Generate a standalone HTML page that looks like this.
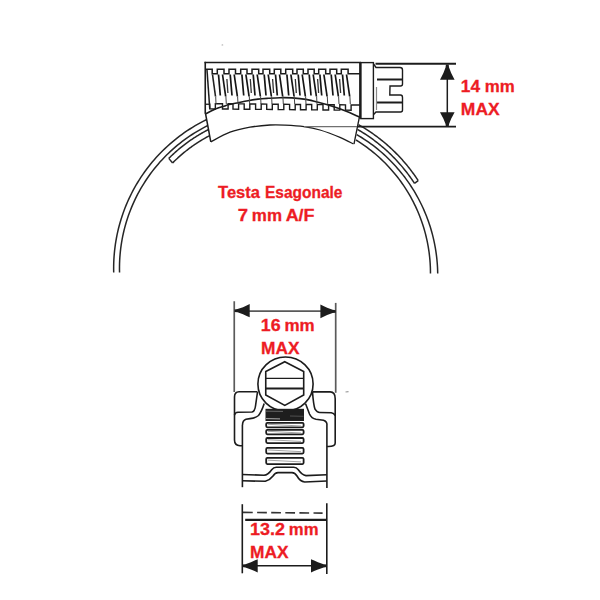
<!DOCTYPE html>
<html><head><meta charset="utf-8"><style>
html,body{margin:0;padding:0;background:#fff;width:600px;height:600px;overflow:hidden}
svg{display:block}
text{font-family:"Liberation Sans",sans-serif;font-weight:bold}
</style></head><body>
<svg width="600" height="600" viewBox="0 0 600 600">
<rect width="600" height="600" fill="#fff"/>
<circle cx="222.4" cy="44.9" r="0.9" fill="#c8c8c8"/>
<path d="M206.30,119.77 L203.49,121.18 L200.71,122.64 L197.95,124.15 L195.23,125.72 L192.53,127.33 L189.87,129.00 L187.24,130.72 L184.64,132.49 L182.07,134.31 L179.54,136.17 L177.05,138.08 L174.59,140.05 L172.17,142.05 L169.79,144.10 L167.45,146.20 L165.15,148.34 L162.89,150.53 L160.67,152.76 L158.50,155.03 L156.37,157.34 L154.28,159.69 L152.24,162.08 L150.24,164.51 L148.30,166.97 L146.39,169.47 L144.54,172.01 L142.73,174.58 L140.98,177.19 L139.27,179.83 L137.62,182.50 L136.01,185.21 L134.46,187.94 L132.96,190.70 L131.51,193.49 L130.11,196.31 L128.77,199.15 L127.49,202.02 L126.26,204.91 L125.08,207.82 L123.96,210.76 L122.89,213.72 L121.89,216.70 L120.93,219.69 L120.04,222.70 L119.20,225.73 L118.42,228.78 L117.70,231.84 L117.04,234.91 L116.44,238.00 L115.89,241.09 L115.40,244.20 L114.98,247.31 L114.61,250.43 L114.30,253.56 L114.05,256.69 L113.86,259.83 L113.73,262.97 L113.66,266.11 L113.65,269.26 L113.70,272.40" stroke="#262626" stroke-width="1.5" fill="none" />
<path d="M207.80,125.53 L205.11,126.90 L202.45,128.32 L199.82,129.79 L197.22,131.31 L194.64,132.88 L192.10,134.50 L189.59,136.16 L187.11,137.88 L184.66,139.63 L182.24,141.44 L179.86,143.29 L177.52,145.19 L175.21,147.12 L172.94,149.11 L170.70,151.13 L168.51,153.20 L166.35,155.31 L164.24,157.46 L162.16,159.64 L160.13,161.87 L158.14,164.14 L156.19,166.44 L154.29,168.78 L152.43,171.15 L150.62,173.56 L148.85,176.00 L147.13,178.48 L145.46,180.99 L143.83,183.53 L142.26,186.10 L140.73,188.70 L139.25,191.32 L137.82,193.98 L136.44,196.66 L135.11,199.37 L133.84,202.10 L132.61,204.85 L131.44,207.63 L130.32,210.43 L129.25,213.25 L128.24,216.09 L127.28,218.95 L126.38,221.82 L125.53,224.72 L124.73,227.63 L123.99,230.55 L123.31,233.49 L122.68,236.43 L122.11,239.39 L121.59,242.36 L121.13,245.34 L120.72,248.33 L120.38,251.33 L120.09,254.33 L119.85,257.33 L119.67,260.34 L119.55,263.36 L119.49,266.37 L119.48,269.39 L119.54,272.40" stroke="#262626" stroke-width="1.5" fill="none" />
<path d="M208.60,129.50 L207.87,129.88 L207.14,130.26 L206.41,130.64 L205.68,131.02 L204.95,131.41 L204.23,131.81 L203.51,132.20 L202.79,132.60 L202.07,133.01 L201.36,133.42 L200.65,133.83 L199.94,134.24 L199.23,134.66 L198.52,135.09 L197.82,135.52 L197.12,135.95 L196.42,136.38 L195.72,136.82 L195.03,137.26 L194.34,137.71 L193.65,138.16 L192.96,138.61 L192.28,139.07 L191.59,139.53 L190.91,139.99 L190.24,140.46 L189.56,140.93 L188.89,141.40 L188.22,141.88 L187.55,142.36 L186.89,142.85 L186.22,143.34 L185.56,143.83 L184.91,144.33 L184.25,144.82 L183.60,145.33 L182.95,145.83 L182.31,146.34 L181.66,146.86 L181.02,147.37 L180.38,147.89 L179.75,148.41 L179.11,148.94 L178.48,149.47 L177.86,150.00 L177.23,150.54 L176.61,151.08 L175.99,151.62 L175.38,152.17 L174.76,152.72 L174.15,153.27 L173.55,153.83 L172.94,154.39 L172.34,154.95 L171.74,155.52 L171.15,156.08 L170.56,156.66 L169.97,157.23 L169.38,157.81 L168.80,158.39" stroke="#262626" stroke-width="1.5" fill="none" />
<path d="M209.20,135.83 L208.53,136.19 L207.86,136.55 L207.19,136.91 L206.52,137.28 L205.85,137.65 L205.19,138.03 L204.53,138.40 L203.87,138.78 L203.21,139.17 L202.55,139.55 L201.90,139.94 L201.24,140.34 L200.59,140.74 L199.95,141.14 L199.30,141.54 L198.65,141.95 L198.01,142.36 L197.37,142.77 L196.73,143.19 L196.10,143.61 L195.47,144.03 L194.83,144.46 L194.20,144.89 L193.58,145.32 L192.95,145.76 L192.33,146.20 L191.71,146.64 L191.09,147.08 L190.48,147.53 L189.86,147.98 L189.25,148.44 L188.64,148.90 L188.04,149.36 L187.43,149.82 L186.83,150.29 L186.23,150.76 L185.63,151.23 L185.04,151.71 L184.45,152.19 L183.86,152.67 L183.27,153.16 L182.68,153.65 L182.10,154.14 L181.52,154.63 L180.95,155.13 L180.37,155.63 L179.80,156.13 L179.23,156.64 L178.66,157.15 L178.10,157.66 L177.54,158.18 L176.98,158.69 L176.42,159.21 L175.87,159.74 L175.32,160.26 L174.77,160.79 L174.22,161.32 L173.68,161.86 L173.14,162.40 L172.60,162.94" stroke="#262626" stroke-width="1.5" fill="none" />
<line x1="168.80" y1="158.39" x2="172.60" y2="162.94" stroke="#262626" stroke-width="1.5" />
<path d="M358.50,124.69 L359.70,125.37 L360.89,126.06 L362.07,126.76 L363.25,127.47 L364.43,128.18 L365.60,128.91 L366.76,129.65 L367.92,130.39 L369.07,131.15 L370.21,131.91 L371.35,132.68 L372.48,133.47 L373.61,134.26 L374.73,135.06 L375.84,135.87 L376.95,136.69 L378.05,137.51 L379.14,138.35 L380.23,139.19 L381.31,140.05 L382.38,140.91 L383.45,141.78 L384.51,142.66 L385.56,143.55 L386.60,144.44 L387.64,145.35 L388.67,146.26 L389.69,147.18 L390.71,148.11 L391.72,149.04 L392.72,149.99 L393.71,150.94 L394.70,151.90 L395.67,152.87 L396.64,153.85 L397.61,154.83 L398.56,155.82 L399.51,156.82 L400.44,157.83 L401.37,158.84 L402.30,159.87 L403.21,160.90 L404.12,161.93 L405.01,162.98 L405.90,164.03 L406.78,165.08 L407.65,166.15 L408.52,167.22 L409.37,168.30 L410.22,169.39 L411.05,170.48 L411.88,171.58 L412.70,172.68 L413.51,173.79 L414.31,174.91 L415.11,176.04 L415.89,177.17 L416.67,178.31 L417.43,179.45 L418.19,180.60" stroke="#262626" stroke-width="1.5" fill="none" />
<path d="M357.50,129.41 L358.64,130.07 L359.78,130.74 L360.91,131.42 L362.03,132.11 L363.15,132.81 L364.27,133.51 L365.38,134.23 L366.48,134.95 L367.58,135.68 L368.67,136.42 L369.75,137.17 L370.83,137.93 L371.91,138.70 L372.98,139.47 L374.04,140.25 L375.09,141.05 L376.14,141.85 L377.18,142.65 L378.22,143.47 L379.25,144.29 L380.27,145.13 L381.29,145.97 L382.30,146.81 L383.30,147.67 L384.30,148.54 L385.29,149.41 L386.27,150.29 L387.25,151.17 L388.22,152.07 L389.18,152.97 L390.13,153.88 L391.08,154.80 L392.02,155.73 L392.95,156.66 L393.88,157.60 L394.80,158.55 L395.71,159.50 L396.61,160.46 L397.51,161.43 L398.39,162.41 L399.27,163.39 L400.15,164.38 L401.01,165.37 L401.87,166.38 L402.72,167.39 L403.56,168.40 L404.39,169.43 L405.21,170.46 L406.03,171.49 L406.84,172.54 L407.64,173.59 L408.43,174.64 L409.21,175.70 L409.99,176.77 L410.75,177.84 L411.51,178.92 L412.26,180.01 L413.00,181.10 L413.73,182.20 L414.46,183.30" stroke="#262626" stroke-width="1.5" fill="none" />
<line x1="418.19" y1="180.60" x2="414.46" y2="183.30" stroke="#262626" stroke-width="1.5" />
<path d="M356.80,134.58 L359.20,136.02 L361.58,137.50 L363.93,139.01 L366.26,140.57 L368.56,142.17 L370.83,143.80 L373.07,145.47 L375.29,147.19 L377.47,148.94 L379.63,150.72 L381.75,152.55 L383.84,154.41 L385.90,156.30 L387.93,158.23 L389.93,160.20 L391.89,162.19 L393.81,164.23 L395.70,166.29 L397.56,168.39 L399.38,170.51 L401.16,172.67 L402.90,174.86 L404.61,177.08 L406.28,179.33 L407.91,181.60 L409.50,183.90 L411.05,186.23 L412.56,188.59 L414.04,190.97 L415.47,193.38 L416.85,195.81 L418.20,198.26 L419.51,200.74 L420.77,203.24 L421.99,205.76 L423.16,208.30 L424.30,210.86 L425.38,213.43 L426.43,216.03 L427.43,218.65 L428.38,221.28 L429.29,223.92 L430.16,226.59 L430.97,229.26 L431.75,231.95 L432.47,234.66 L433.15,237.37 L433.79,240.10 L434.37,242.84 L434.91,245.58 L435.41,248.34 L435.85,251.10 L436.25,253.87 L436.60,256.65 L436.90,259.43 L437.16,262.22 L437.37,265.01 L437.53,267.80 L437.64,270.60 L437.70,273.40" stroke="#262626" stroke-width="1.5" fill="none" />
<path d="M356.00,140.00 L358.26,141.41 L360.49,142.86 L362.69,144.34 L364.87,145.87 L367.03,147.43 L369.15,149.03 L371.25,150.66 L373.32,152.33 L375.36,154.04 L377.38,155.78 L379.36,157.55 L381.31,159.36 L383.24,161.20 L385.13,163.07 L386.98,164.98 L388.81,166.91 L390.60,168.88 L392.36,170.88 L394.08,172.90 L395.77,174.96 L397.43,177.04 L399.04,179.15 L400.63,181.29 L402.17,183.46 L403.68,185.65 L405.15,187.87 L406.58,190.11 L407.98,192.37 L409.33,194.66 L410.65,196.98 L411.93,199.31 L413.17,201.66 L414.36,204.04 L415.52,206.44 L416.63,208.85 L417.71,211.29 L418.74,213.74 L419.73,216.21 L420.68,218.69 L421.58,221.20 L422.45,223.71 L423.27,226.24 L424.04,228.79 L424.78,231.35 L425.47,233.92 L426.11,236.50 L426.71,239.09 L427.27,241.69 L427.79,244.30 L428.25,246.92 L428.68,249.55 L429.06,252.18 L429.39,254.82 L429.68,257.46 L429.93,260.11 L430.13,262.77 L430.28,265.42 L430.39,268.08 L430.45,270.74 L430.47,273.40" stroke="#262626" stroke-width="1.5" fill="none" />
<path d="M205.50,113.80 C207.47,112.88 214.22,109.55 217.30,108.30 C220.38,107.05 222.22,106.88 224.00,106.30 C225.78,105.72 225.67,105.40 228.00,104.80 C230.33,104.20 234.67,103.38 238.00,102.70 C241.33,102.02 244.67,101.30 248.00,100.70 C251.33,100.10 254.67,99.50 258.00,99.10 C261.33,98.70 264.33,98.53 268.00,98.30 C271.67,98.07 276.00,97.77 280.00,97.70 C284.00,97.63 287.67,97.62 292.00,97.90 C296.33,98.18 301.33,98.58 306.00,99.40 C310.67,100.22 315.50,101.60 320.00,102.80 C324.50,104.00 328.83,105.27 333.00,106.60 C337.17,107.93 340.58,109.07 345.00,110.80 C349.42,112.53 357.08,115.97 359.50,117.00 L354,144 L353.50,144.00 C351.25,142.90 345.58,139.73 340.00,137.40 C334.42,135.07 326.00,131.80 320.00,130.00 C314.00,128.20 309.83,127.42 304.00,126.60 C298.17,125.78 290.67,125.37 285.00,125.10 C279.33,124.83 275.83,124.65 270.00,125.00 C264.17,125.35 256.67,126.00 250.00,127.20 C243.33,128.40 236.53,129.77 230.00,132.20 C223.47,134.63 214.00,140.20 210.80,141.80 Z" fill="#fff" stroke="none"/>
<path d="M205.50,113.80 C207.47,112.88 214.22,109.55 217.30,108.30 C220.38,107.05 222.22,106.88 224.00,106.30 C225.78,105.72 225.67,105.40 228.00,104.80 C230.33,104.20 234.67,103.38 238.00,102.70 C241.33,102.02 244.67,101.30 248.00,100.70 C251.33,100.10 254.67,99.50 258.00,99.10 C261.33,98.70 264.33,98.53 268.00,98.30 C271.67,98.07 276.00,97.77 280.00,97.70 C284.00,97.63 287.67,97.62 292.00,97.90 C296.33,98.18 301.33,98.58 306.00,99.40 C310.67,100.22 315.50,101.60 320.00,102.80 C324.50,104.00 328.83,105.27 333.00,106.60 C337.17,107.93 340.58,109.07 345.00,110.80 C349.42,112.53 357.08,115.97 359.50,117.00" stroke="#1c1c1c" stroke-width="1.6" fill="none" />
<path d="M210.80,141.80 C214.00,140.20 223.47,134.63 230.00,132.20 C236.53,129.77 243.33,128.40 250.00,127.20 C256.67,126.00 264.17,125.35 270.00,125.00 C275.83,124.65 279.33,124.83 285.00,125.10 C290.67,125.37 298.17,125.78 304.00,126.60 C309.83,127.42 314.00,128.20 320.00,130.00 C326.00,131.80 334.42,135.07 340.00,137.40 C345.58,139.73 351.25,142.90 353.50,144.00" stroke="#1c1c1c" stroke-width="1.3" fill="none" />
<line x1="205.50" y1="113.50" x2="210.80" y2="141.80" stroke="#1c1c1c" stroke-width="1.5" />
<line x1="359.50" y1="116.50" x2="354.00" y2="144.00" stroke="#1c1c1c" stroke-width="1.3" />
<line x1="204.50" y1="62.50" x2="361.00" y2="62.50" stroke="#1c1c1c" stroke-width="1.5" />
<line x1="205.25" y1="61.80" x2="205.25" y2="113.80" stroke="#1c1c1c" stroke-width="1.6" />
<line x1="207.00" y1="70.00" x2="209.75" y2="108.60" stroke="#1c1c1c" stroke-width="1.5" />
<line x1="205.25" y1="104.25" x2="209.75" y2="104.25" stroke="#1c1c1c" stroke-width="1.3" />
<path d="M205.25,69.2 L212.20,69.2 L212.20,73.7 L217.30,73.7 L217.30,69.2 L224.00,69.2 L224.00,73.7 L229.00,73.7 L229.00,69.2 L235.50,69.2 L235.50,73.7 L240.70,73.7 L240.70,69.2 L247.00,69.2 L247.00,73.7 L252.00,73.7 L252.00,69.2 L258.70,69.2 L258.70,73.7 L263.00,73.7 L263.00,69.2 L269.70,69.2 L269.70,73.7 L274.30,73.7 L274.30,69.2 L280.80,69.2 L280.80,73.7 L285.70,73.7 L285.70,69.2 L292.70,69.2 L292.70,73.7 L297.00,73.7 L297.00,69.2 L303.30,69.2 L303.30,73.7 L308.00,73.7 L308.00,69.2 L314.20,69.2 L314.20,73.7 L318.70,73.7 L318.70,69.2 L325.70,69.2 L325.70,73.7 L330.00,73.7 L330.00,69.2 L336.70,69.2 L336.70,73.7 L341.30,73.7 L341.30,69.2 L348.10,69.2 L348.10,73.7 L360,73.7" stroke="#1c1c1c" stroke-width="1.5" fill="none" />
<path d="M209.75,103.60 L209.75,103.60 L209.75,108.90 L215.35,108.95 L215.35,103.65 L222.50,103.72 L222.50,109.02 L228.10,109.07 L228.10,103.77 L233.00,103.81 L233.00,109.11 L238.60,109.17 L238.60,103.87 L244.20,103.92 L244.20,109.22 L249.80,109.27 L249.80,103.97 L255.60,104.03 L255.60,109.33 L261.20,109.38 L261.20,104.08 L266.70,104.13 L266.70,109.43 L272.30,109.48 L272.30,104.18 L278.20,104.24 L278.20,109.54 L283.80,109.59 L283.80,104.29 L289.60,104.34 L289.60,109.64 L295.20,109.70 L295.20,104.40 L300.50,104.44 L300.50,109.74 L306.10,109.80 L306.10,104.50 L311.70,104.55 L311.70,109.85 L317.30,109.90 L317.30,104.60 L323.00,104.65 L323.00,109.95 L328.60,110.01 L328.60,104.71 L334.20,104.76 L334.20,110.06 L339.80,110.11 L339.80,104.81 L345.50,104.86 L345.50,110.16 L351.10,110.22 L351.10,104.92 L360,105.00" stroke="#1c1c1c" stroke-width="1.4" fill="none" />
<line x1="218.50" y1="74.50" x2="220.30" y2="95.50" stroke="#151515" stroke-width="1.7" />
<line x1="222.50" y1="74.50" x2="225.70" y2="96.50" stroke="#151515" stroke-width="1.7" />
<line x1="225.90" y1="96.50" x2="226.30" y2="104.00" stroke="#444" stroke-width="1.0" />
<line x1="230.20" y1="74.50" x2="232.00" y2="95.50" stroke="#151515" stroke-width="1.7" />
<line x1="234.20" y1="74.50" x2="237.40" y2="96.50" stroke="#151515" stroke-width="1.7" />
<line x1="237.60" y1="96.50" x2="238.00" y2="104.00" stroke="#444" stroke-width="1.0" />
<line x1="241.90" y1="74.50" x2="243.70" y2="95.50" stroke="#151515" stroke-width="1.7" />
<line x1="245.90" y1="74.50" x2="249.10" y2="96.50" stroke="#151515" stroke-width="1.7" />
<line x1="249.30" y1="96.50" x2="249.70" y2="104.00" stroke="#444" stroke-width="1.0" />
<line x1="253.20" y1="74.50" x2="255.00" y2="95.50" stroke="#151515" stroke-width="1.7" />
<line x1="257.20" y1="74.50" x2="260.40" y2="96.50" stroke="#151515" stroke-width="1.7" />
<line x1="260.60" y1="96.50" x2="261.00" y2="104.00" stroke="#444" stroke-width="1.0" />
<line x1="264.20" y1="74.50" x2="266.00" y2="95.50" stroke="#151515" stroke-width="1.7" />
<line x1="268.20" y1="74.50" x2="271.40" y2="96.50" stroke="#151515" stroke-width="1.7" />
<line x1="271.60" y1="96.50" x2="272.00" y2="104.00" stroke="#444" stroke-width="1.0" />
<line x1="275.50" y1="74.50" x2="277.30" y2="95.50" stroke="#151515" stroke-width="1.7" />
<line x1="279.50" y1="74.50" x2="282.70" y2="96.50" stroke="#151515" stroke-width="1.7" />
<line x1="282.90" y1="96.50" x2="283.30" y2="104.00" stroke="#444" stroke-width="1.0" />
<line x1="286.90" y1="74.50" x2="288.70" y2="95.50" stroke="#151515" stroke-width="1.7" />
<line x1="290.90" y1="74.50" x2="294.10" y2="96.50" stroke="#151515" stroke-width="1.7" />
<line x1="294.30" y1="96.50" x2="294.70" y2="104.00" stroke="#444" stroke-width="1.0" />
<line x1="298.20" y1="74.50" x2="300.00" y2="95.50" stroke="#151515" stroke-width="1.7" />
<line x1="302.20" y1="74.50" x2="305.40" y2="96.50" stroke="#151515" stroke-width="1.7" />
<line x1="305.60" y1="96.50" x2="306.00" y2="104.00" stroke="#444" stroke-width="1.0" />
<line x1="309.20" y1="74.50" x2="311.00" y2="95.50" stroke="#151515" stroke-width="1.7" />
<line x1="313.20" y1="74.50" x2="316.40" y2="96.50" stroke="#151515" stroke-width="1.7" />
<line x1="316.60" y1="96.50" x2="317.00" y2="104.00" stroke="#444" stroke-width="1.0" />
<line x1="319.90" y1="74.50" x2="321.70" y2="95.50" stroke="#151515" stroke-width="1.7" />
<line x1="323.90" y1="74.50" x2="327.10" y2="96.50" stroke="#151515" stroke-width="1.7" />
<line x1="327.30" y1="96.50" x2="327.70" y2="104.00" stroke="#444" stroke-width="1.0" />
<line x1="331.20" y1="74.50" x2="333.00" y2="95.50" stroke="#151515" stroke-width="1.7" />
<line x1="335.20" y1="74.50" x2="338.40" y2="96.50" stroke="#151515" stroke-width="1.7" />
<line x1="338.60" y1="96.50" x2="339.00" y2="104.00" stroke="#444" stroke-width="1.0" />
<line x1="342.50" y1="74.50" x2="344.30" y2="95.50" stroke="#151515" stroke-width="1.7" />
<line x1="346.50" y1="74.50" x2="349.70" y2="96.50" stroke="#151515" stroke-width="1.7" />
<line x1="349.90" y1="96.50" x2="350.30" y2="104.00" stroke="#444" stroke-width="1.0" />
<line x1="226.90" y1="79.00" x2="227.90" y2="93.00" stroke="#333" stroke-width="1.3" />
<line x1="250.30" y1="79.00" x2="251.30" y2="93.00" stroke="#333" stroke-width="1.3" />
<line x1="272.60" y1="79.00" x2="273.60" y2="93.00" stroke="#333" stroke-width="1.3" />
<line x1="295.30" y1="79.00" x2="296.30" y2="93.00" stroke="#333" stroke-width="1.3" />
<line x1="317.60" y1="79.00" x2="318.60" y2="93.00" stroke="#333" stroke-width="1.3" />
<line x1="339.60" y1="79.00" x2="340.60" y2="93.00" stroke="#333" stroke-width="1.3" />
<line x1="212.50" y1="74.50" x2="215.50" y2="96.50" stroke="#222" stroke-width="1.6" />
<line x1="215.70" y1="96.50" x2="216.00" y2="104.00" stroke="#444" stroke-width="1.0" />
<rect x="360.8" y="62.6" width="12.6" height="56" fill="#fff" stroke="#1c1c1c" stroke-width="1.4"/>
<line x1="360.20" y1="62.60" x2="360.20" y2="118.60" stroke="#1c1c1c" stroke-width="2.2" />
<path d="M373.6,64 L376,67.5 L400,67.5 Q402.5,67.5 402.5,70 L402.5,84 Q402.5,86 400.5,86 L390,86 L389.8,95 L400.5,95 Q402.5,95 402.5,97.5 L402.5,110 Q402.5,112 400.5,112 L376,112 L373.6,114.5" stroke="#1c1c1c" stroke-width="1.4" fill="none" />
<line x1="377.00" y1="79.50" x2="402.50" y2="79.50" stroke="#1c1c1c" stroke-width="2.0" />
<line x1="377.00" y1="102.50" x2="402.50" y2="102.50" stroke="#1c1c1c" stroke-width="2.0" />
<line x1="376.50" y1="87.00" x2="376.50" y2="110.00" stroke="#888" stroke-width="1.2" />
<line x1="375.50" y1="63.80" x2="456.00" y2="63.80" stroke="#1c1c1c" stroke-width="1.9" />
<line x1="304.00" y1="126.60" x2="357.00" y2="126.60" stroke="#707070" stroke-width="1.4" />
<line x1="357.00" y1="126.65" x2="456.00" y2="126.65" stroke="#1c1c1c" stroke-width="1.9" />
<line x1="447.30" y1="70.00" x2="447.30" y2="122.00" stroke="#1c1c1c" stroke-width="1.5" />
<polygon points="445.92,64.50 445.53,67.54 443.43,73.01 441.55,76.66 440.00,79.70 454.60,79.70 453.05,76.66 451.17,73.01 449.07,67.54 448.68,64.50" fill="#1c1c1c"/>
<polygon points="448.68,127.00 449.07,124.06 451.17,118.77 453.05,115.24 454.60,112.30 440.00,112.30 441.55,115.24 443.43,118.77 445.53,124.06 445.92,127.00" fill="#1c1c1c"/>
<line x1="234.25" y1="301.25" x2="234.25" y2="392.00" stroke="#5a5a5a" stroke-width="1.7" />
<line x1="335.70" y1="302.90" x2="335.70" y2="392.80" stroke="#5a5a5a" stroke-width="1.7" />
<line x1="240.00" y1="311.20" x2="330.00" y2="311.20" stroke="#5a5a5a" stroke-width="1.7" />
<polygon points="234.50,311.95 237.54,312.30 243.01,314.20 246.66,315.90 249.70,317.30 249.70,304.10 246.66,305.50 243.01,307.20 237.54,309.10 234.50,309.45" fill="#1c1c1c"/>
<polygon points="335.70,310.15 332.64,309.79 327.13,307.82 323.46,306.05 320.40,304.60 320.40,318.30 323.46,316.85 327.13,315.08 332.64,313.11 335.70,312.75" fill="#1c1c1c"/>
<path d="M257.5,391.7 L239,391.7 Q234.5,391.7 234.5,397 L234.5,440 Q234.5,445.5 240,445.8 L242.3,445.8" stroke="#1c1c1c" stroke-width="1.6" fill="none" />
<path d="M234.5,415 Q235,412.5 238,412.3 L252,412 Q255,411 255.5,406 L257.5,392" stroke="#1c1c1c" stroke-width="1.6" fill="none" />
<path d="M264.2,403.6 Q261.5,412 258.5,415.5 Q255,418.3 250,418.6 L246,419.3 Q242.5,420.5 242.5,425" stroke="#1c1c1c" stroke-width="1.6" fill="none" />
<line x1="242.40" y1="425.00" x2="242.40" y2="487.20" stroke="#1c1c1c" stroke-width="1.6" />
<path d="M312.5,391.9 L330.2,391.9 Q335.2,391.9 335.2,398.7 L335.2,443 Q335.2,446.5 328.4,446.5 L326.8,446.5" stroke="#1c1c1c" stroke-width="1.6" fill="none" />
<path d="M312.5,392 Q313.5,405 315,409.2 Q317,412.5 319.7,412.5 L331.3,412.8 Q334,413.3 335.2,415.5" stroke="#1c1c1c" stroke-width="1.6" fill="none" />
<path d="M305.6,403.8 L309.5,414 Q311.5,418.5 316,419.3 L323.5,420.3 Q327,421.5 327,425" stroke="#1c1c1c" stroke-width="1.6" fill="none" />
<line x1="326.90" y1="425.00" x2="326.90" y2="488.00" stroke="#1c1c1c" stroke-width="1.6" />
<line x1="345.50" y1="392.00" x2="348.50" y2="391.60" stroke="#999" stroke-width="1.2" />
<ellipse cx="285.5" cy="384" rx="27.6" ry="27" fill="#fff" stroke="#1c1c1c" stroke-width="1.6"/>
<polygon points="284.8,361.7 303.7,371.6 303.7,395 284.8,405.4 265.75,395 265.75,371.6" fill="#fff" stroke="#1c1c1c" stroke-width="1.6"/>
<line x1="265.75" y1="378.40" x2="303.70" y2="378.40" stroke="#1c1c1c" stroke-width="1.3" />
<line x1="265.75" y1="388.50" x2="303.70" y2="388.50" stroke="#1c1c1c" stroke-width="2.0" />
<rect x="265.5" y="408.8" width="38.5" height="12.2" fill="#1e1e1e"/>
<line x1="266.00" y1="411.20" x2="283.00" y2="411.40" stroke="#777" stroke-width="0.8" />
<line x1="266.00" y1="418.60" x2="280.00" y2="418.90" stroke="#aaa" stroke-width="1.0" />
<line x1="290.00" y1="416.00" x2="303.50" y2="416.30" stroke="#666" stroke-width="0.7" />
<rect x="266.2" y="422.90" width="37.4" height="4.40" rx="1.2" fill="#fff" stroke="#1c1c1c" stroke-width="1.8"/>
<line x1="268.00" y1="424.30" x2="301.00" y2="426.00" stroke="#999" stroke-width="0.9" />
<rect x="266.2" y="429.90" width="37.4" height="4.40" rx="1.2" fill="#fff" stroke="#1c1c1c" stroke-width="1.8"/>
<line x1="268.00" y1="431.30" x2="301.00" y2="433.00" stroke="#999" stroke-width="0.9" />
<rect x="266.2" y="438.00" width="37.4" height="5.05" rx="1.2" fill="#fff" stroke="#1c1c1c" stroke-width="1.8"/>
<line x1="268.00" y1="439.72" x2="301.00" y2="441.42" stroke="#999" stroke-width="0.9" />
<rect x="266.2" y="447.95" width="37.4" height="5.60" rx="1.2" fill="#fff" stroke="#1c1c1c" stroke-width="1.8"/>
<line x1="268.00" y1="449.95" x2="301.00" y2="451.65" stroke="#999" stroke-width="0.9" />
<rect x="266.2" y="457.90" width="37.4" height="6.15" rx="1.2" fill="#fff" stroke="#1c1c1c" stroke-width="1.8"/>
<line x1="268.00" y1="460.18" x2="301.00" y2="461.88" stroke="#999" stroke-width="0.9" />
<path d="M242.3,474.5 L264,475.2 Q268,475 271.7,469.7 Q273.5,467.3 276.3,467.3 L293.7,467.3 Q296.5,467.3 298.3,469.7 Q302,475 306,475.6 L326.8,474.8" stroke="#1c1c1c" stroke-width="1.6" fill="none" />
<path d="M242.3,480.8 L265.3,481.3 Q270,480 273,476 Q275,472.6 278,472.6 L292,472.6 Q295,472.6 297,476 Q300,481.5 304.7,482 L326.8,481" stroke="#1c1c1c" stroke-width="1.6" fill="none" />
<line x1="242.30" y1="504.20" x2="242.30" y2="573.30" stroke="#1c1c1c" stroke-width="1.6" />
<line x1="326.80" y1="503.30" x2="326.80" y2="574.00" stroke="#1c1c1c" stroke-width="1.6" />
<line x1="243.00" y1="512.40" x2="322.60" y2="513.10" stroke="#333" stroke-width="1.7" stroke-dasharray="9.75 4.35"/>
<line x1="245.20" y1="519.80" x2="326.80" y2="519.80" stroke="#1c1c1c" stroke-width="2.2" />
<line x1="250.00" y1="565.80" x2="318.00" y2="565.80" stroke="#1c1c1c" stroke-width="1.6" />
<polygon points="242.30,567.11 245.38,567.46 250.92,569.38 254.62,571.09 257.70,572.50 257.70,559.20 254.62,560.61 250.92,562.32 245.38,564.24 242.30,564.59" fill="#1c1c1c"/>
<polygon points="326.80,564.59 323.64,564.24 317.95,562.32 314.16,560.61 311.00,559.20 311.00,572.50 314.16,571.09 317.95,569.38 323.64,567.46 326.80,567.11" fill="#1c1c1c"/>
<text x="218.04" y="198.00" textLength="41.85" lengthAdjust="spacingAndGlyphs" font-size="16.8" fill="#ed1c24" stroke="#ed1c24" stroke-width="0.3">Testa</text>
<text x="264.99" y="198.00" textLength="77.50" lengthAdjust="spacingAndGlyphs" font-size="16.8" fill="#ed1c24" stroke="#ed1c24" stroke-width="0.3">Esagonale</text>
<text x="237.87" y="220.50" textLength="10.29" lengthAdjust="spacingAndGlyphs" font-size="16.8" fill="#ed1c24" stroke="#ed1c24" stroke-width="0.3">7</text>
<text x="251.80" y="220.50" textLength="30.18" lengthAdjust="spacingAndGlyphs" font-size="16.8" fill="#ed1c24" stroke="#ed1c24" stroke-width="0.3">mm</text>
<text x="285.65" y="220.50" textLength="28.89" lengthAdjust="spacingAndGlyphs" font-size="16.8" fill="#ed1c24" stroke="#ed1c24" stroke-width="0.3">A/F</text>
<text x="460.88" y="91.75" textLength="19.25" lengthAdjust="spacingAndGlyphs" font-size="16.8" fill="#ed1c24" stroke="#ed1c24" stroke-width="0.3">14</text>
<text x="484.80" y="91.75" textLength="29.96" lengthAdjust="spacingAndGlyphs" font-size="16.8" fill="#ed1c24" stroke="#ed1c24" stroke-width="0.3">mm</text>
<text x="460.87" y="115.00" textLength="38.75" lengthAdjust="spacingAndGlyphs" font-size="16.8" fill="#ed1c24" stroke="#ed1c24" stroke-width="0.3">MAX</text>
<text x="260.84" y="330.75" textLength="19.82" lengthAdjust="spacingAndGlyphs" font-size="16.8" fill="#ed1c24" stroke="#ed1c24" stroke-width="0.3">16</text>
<text x="284.40" y="330.75" textLength="30.18" lengthAdjust="spacingAndGlyphs" font-size="16.8" fill="#ed1c24" stroke="#ed1c24" stroke-width="0.3">mm</text>
<text x="261.08" y="353.50" textLength="38.44" lengthAdjust="spacingAndGlyphs" font-size="16.8" fill="#ed1c24" stroke="#ed1c24" stroke-width="0.3">MAX</text>
<text x="249.93" y="535.10" textLength="35.07" lengthAdjust="spacingAndGlyphs" font-size="16.8" fill="#ed1c24" stroke="#ed1c24" stroke-width="0.3">13.2</text>
<text x="288.82" y="535.10" textLength="29.64" lengthAdjust="spacingAndGlyphs" font-size="16.8" fill="#ed1c24" stroke="#ed1c24" stroke-width="0.3">mm</text>
<text x="250.08" y="557.70" textLength="38.44" lengthAdjust="spacingAndGlyphs" font-size="16.8" fill="#ed1c24" stroke="#ed1c24" stroke-width="0.3">MAX</text>
</svg>
</body></html>
